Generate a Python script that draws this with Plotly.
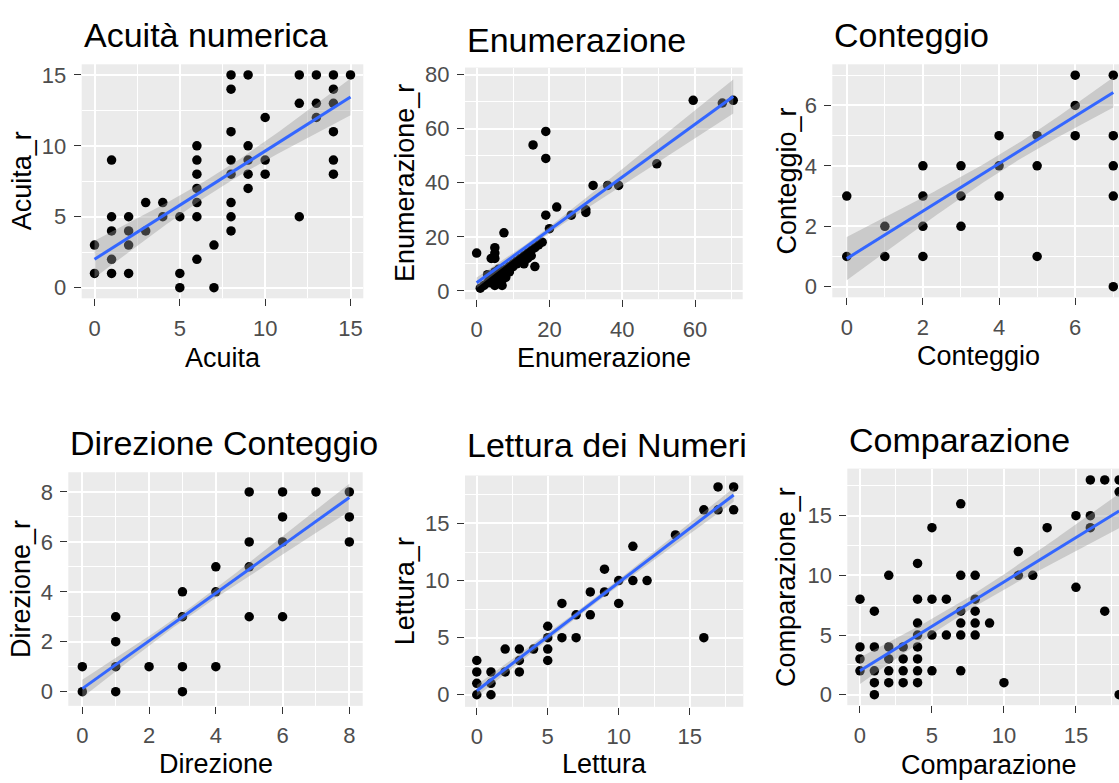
import numpy as np
import plotly.graph_objects as go

W, H = 1119, 783
FONT = "Liberation Sans, Arial, Helvetica, sans-serif"

# ---------------- data ----------------
# Acuità numerica
acuita_x = [0, 0, 1, 1, 1, 1, 1, 2, 2, 2, 2, 3, 3, 4, 4, 5, 5, 5,
            6, 6, 6, 6, 6, 6, 6, 7, 7, 8, 8, 8, 8, 8, 8, 8, 8,
            9, 9, 9, 9, 9, 10, 10, 10, 12, 12, 12, 13, 13, 13,
            14, 14, 14, 14, 14, 14, 15]
acuita_r = [3, 1, 9, 5, 4, 2, 1, 5, 4, 3, 1, 6, 4, 6, 5, 5, 1, 0,
            10, 9, 8, 7, 6, 5, 2, 3, 0, 15, 14, 11, 9, 8, 6, 5, 4,
            15, 10, 9, 8, 7, 12, 9, 8, 15, 13, 5, 15, 13, 12,
            15, 14, 13, 11, 9, 8, 15]
acuita_fit = [0, 15, 2.0, 13.45]          # x start, x end, fitted y start, fitted y end
acuita_band = [7.5, 0.55, 1.3]            # centre x, half-width at centre, half-width at x end

# Enumerazione
enum_x = [0, 1, 2, 3, 3, 4, 4, 4, 5, 5, 5, 5, 5, 5, 6, 6, 6, 7, 7, 7, 7.5,
          8, 8, 9, 9, 10, 10, 11, 11, 12, 12, 13, 13, 14, 14, 15, 15, 15.5,
          16, 16, 17, 18, 19, 19, 19, 20, 22, 26, 30, 30, 32, 36, 39,
          49.5, 59.5, 67.5, 70.5]
enum_r = [14, 1, 2, 3, 6, 3, 5, 12, 2, 4, 7, 12, 14, 16, 3, 5, 8, 2, 4, 7, 21.5,
          5, 8, 9, 7, 10, 9, 11, 10, 12, 11, 10, 13, 12, 14, 15, 13, 54,
          9, 16, 17, 18, 28, 49, 59, 23, 31, 28, 30, 29, 39, 39, 39,
          47, 70.5, 69.5, 70.5]
enum_fit = [0, 70.5, 3.0, 71.9]
enum_band = [15, 1.0, 6.3]

# Conteggio
cont_x = [0, 0, 1, 1, 2, 2, 2, 2, 3, 3, 3, 4, 4, 4, 5, 5, 5, 6, 6, 6, 7, 7, 7, 7, 7]
cont_r = [3, 1, 2, 1, 4, 3, 2, 1, 4, 3, 2, 5, 4, 3, 5, 4, 1, 7, 6, 5, 7, 5, 4, 3, 0]
cont_fit = [0, 7, 0.93, 6.43]
cont_band = [4.3, 0.28, 0.5]

# Direzione Conteggio
dir_x = [0, 0, 1, 1, 1, 1, 2, 3, 3, 3, 3, 4, 4, 4, 5, 5, 5, 5, 6, 6, 6, 6, 7, 8, 8, 8]
dir_r = [0, 1, 0, 1, 2, 3, 1, 0, 1, 3, 4, 1, 4, 5, 3, 5, 6, 8, 3, 6, 7, 8, 8, 6, 7, 8]
dir_fit = [0, 8, 0.12, 7.78]
dir_band = [3.0, 0.16, 0.55]

# Lettura dei Numeri
lett_x = [0, 0, 0, 0, 1, 1, 1, 2, 2, 3, 3, 3, 4, 5, 5, 5, 5, 6, 6, 7, 7, 8, 8,
          9, 9, 10, 10, 11, 11, 12, 14, 16, 16, 17, 17, 18.1, 18.1]
lett_r = [0, 1, 2, 3, 0, 1, 2, 2, 4, 2, 3, 4, 4, 3, 4, 5, 6, 5, 8, 5, 7, 7, 9,
          9, 11, 8, 10, 10, 13, 10, 14, 5, 16.2, 16.2, 18.2, 16.2, 18.2]
lett_fit = [0, 18.1, 0.35, 17.5]
lett_band = [8.0, 0.25, 0.6]

# Comparazione
comp_x = [0, 0, 0, 0, 1, 1, 1, 1, 1, 2, 2, 2, 2, 2, 3, 3, 3, 3,
          4, 4, 4, 4, 4, 4, 4, 4, 5, 5, 5, 5, 6, 6, 7, 7, 7, 7, 7, 7,
          8, 8, 8, 8, 8, 9, 10, 11, 11, 12, 13, 15, 15, 16, 16, 16,
          17, 17, 18, 18, 18]
comp_r = [8, 4, 3, 2, 7, 4, 2, 1, 0, 10, 4, 3, 2, 1, 4, 3, 2, 1,
          11, 8, 6, 5, 4, 3, 2, 1, 14, 8, 5, 2, 8, 5, 16, 10, 7, 6, 5, 2,
          10, 8, 7, 6, 5, 6, 1, 12, 10, 10, 14, 15, 9, 18, 15, 14,
          18, 7, 18, 17, 0]
comp_fit = [0, 18, 2.0, 15.4]
comp_band = [7.5, 0.55, 1.45]

# ---------------- panel layout (pixel boxes: left, top, right, bottom) ----------------
panels = [
    dict(title="Acuità numerica", xt="Acuita", yt="Acuita_r",
         x=acuita_x, y=acuita_r, fit=acuita_fit, band=acuita_band,
         box=(81.7, 60, 363.3, 296.7), xr=(-0.75, 15.75), yr=(-0.75, 15.75),
         xd=5, yd=5, title_y=30, xt_pos=(222.5, 357), yt_x=22),
    dict(title="Enumerazione", xt="Enumerazione", yt="Enumerazione_r",
         x=enum_x, y=enum_r, fit=enum_fit, band=enum_band,
         box=(465, 63.3, 742.7, 297.7), xr=(-3.2, 73.1), yr=(-3.1, 82.6),
         xd=20, yd=20, title_y=35, xt_pos=(604, 357), yt_x=405.5),
    dict(title="Conteggio", xt="Conteggio", yt="Conteggio_r",
         x=cont_x, y=cont_r, fit=cont_fit, band=cont_band,
         box=(832.3, 60, W, 295.7), xr=(-0.38, 7.15), yr=(-0.35, 7.36),
         xd=2, yd=2, title_y=30, xt_pos=(978, 355), yt_x=786.7),
    dict(title="Direzione Conteggio", xt="Direzione", yt="Direzione_r",
         x=dir_x, y=dir_r, fit=dir_fit, band=dir_band,
         box=(68.3, 472.7, 362.7, 709), xr=(-0.42, 8.4), yr=(-0.57, 8.79),
         xd=2, yd=2, title_y=443, xt_pos=(215.5, 768), yt_x=21),
    dict(title="Lettura dei Numeri", xt="Lettura", yt="Lettura_r",
         x=lett_x, y=lett_r, fit=lett_fit, band=lett_band,
         box=(465, 476, 743.3, 710), xr=(-0.83, 18.78), yr=(-1.06, 19.2),
         xd=5, yd=5, title_y=445.5, xt_pos=(604, 768), yt_x=405),
    dict(title="Comparazione", xt="Comparazione", yt="Comparazione_r",
         x=comp_x, y=comp_r, fit=comp_fit, band=comp_band,
         box=(847.3, 469, W, 708.3), xr=(-0.88, 17.99), yr=(-0.88, 18.95),
         xd=5, yd=5, title_y=440, xt_pos=(989, 769), yt_x=786),
]

fig = go.Figure()
annotations = []


def px_x(v):
    return v / W


def px_y(v):
    return 1 - v / H


for i, p in enumerate(panels, start=1):
    xa, ya = f"x{i}", f"y{i}"

    # points
    fig.add_trace(go.Scatter(
        x=p["x"], y=p["y"], mode="markers", xaxis=xa, yaxis=ya,
        marker=dict(color="black", size=9.5, line=dict(width=0)),
        hoverinfo="skip", showlegend=False))

    # linear fit with its confidence band
    x0, x1, y0, y1 = p["fit"]
    xc, hw_c, hw_end = p["band"]
    xs = np.linspace(x0, x1, 80)
    ys = y0 + (y1 - y0) * (xs - x0) / (x1 - x0)
    b2 = (hw_end ** 2 - hw_c ** 2) / (x1 - xc) ** 2
    hw = np.sqrt(hw_c ** 2 + b2 * (xs - xc) ** 2)
    fig.add_trace(go.Scatter(
        x=np.concatenate([xs, xs[::-1]]),
        y=np.concatenate([ys + hw, (ys - hw)[::-1]]),
        mode="lines", fill="toself", fillcolor="rgba(153,153,153,0.4)",
        line=dict(width=0), xaxis=xa, yaxis=ya,
        hoverinfo="skip", showlegend=False))
    fig.add_trace(go.Scatter(
        x=xs, y=ys, mode="lines", xaxis=xa, yaxis=ya,
        line=dict(color="#3366FF", width=3),
        hoverinfo="skip", showlegend=False))

    left, top, right, bottom = p["box"]
    common = dict(
        showgrid=True, gridcolor="white", gridwidth=1.8,
        zeroline=False, showline=False,
        ticks="outside", ticklen=7, tickwidth=1.4, tickcolor="#333333",
        tickfont=dict(family=FONT, size=22, color="#4D4D4D"),
        ticklabelstandoff=3,
        fixedrange=True,
    )
    fig.layout[f"xaxis{i}"] = dict(
        common, domain=[px_x(left), px_x(right)], anchor=ya,
        range=list(p["xr"]), tickmode="linear", tick0=0, dtick=p["xd"],
        minor=dict(showgrid=True, gridcolor="white", gridwidth=0.9,
                   tick0=p["xd"] / 2, dtick=p["xd"]))
    fig.layout[f"yaxis{i}"] = dict(
        common, domain=[px_y(bottom), px_y(top)], anchor=xa,
        range=list(p["yr"]), tickmode="linear", tick0=0, dtick=p["yd"],
        minor=dict(showgrid=True, gridcolor="white", gridwidth=0.9,
                   tick0=p["yd"] / 2, dtick=p["yd"]))

    # panel title, aligned to the panel's left edge
    annotations.append(dict(
        text=p["title"], xref="paper", yref="paper",
        x=px_x(left), y=px_y(p["title_y"]), xanchor="left", yanchor="middle",
        showarrow=False, font=dict(family=FONT, size=34, color="black")))
    # axis titles
    annotations.append(dict(
        text=p["xt"], xref="paper", yref="paper",
        x=px_x(p["xt_pos"][0]), y=px_y(p["xt_pos"][1]),
        xanchor="center", yanchor="middle",
        showarrow=False, font=dict(family=FONT, size=27, color="black")))
    annotations.append(dict(
        text=p["yt"], xref="paper", yref="paper", textangle=-90,
        x=px_x(p["yt_x"]), y=px_y((top + bottom) / 2),
        xanchor="center", yanchor="middle",
        showarrow=False, font=dict(family=FONT, size=27, color="black")))

fig.update_layout(
    width=W, height=H,
    margin=dict(l=0, r=0, t=0, b=0, pad=0),
    paper_bgcolor="white", plot_bgcolor="#EBEBEB",
    showlegend=False, annotations=annotations,
    font=dict(family=FONT),
)

fig.write_html("out.html", config=dict(displayModeBar=False))
